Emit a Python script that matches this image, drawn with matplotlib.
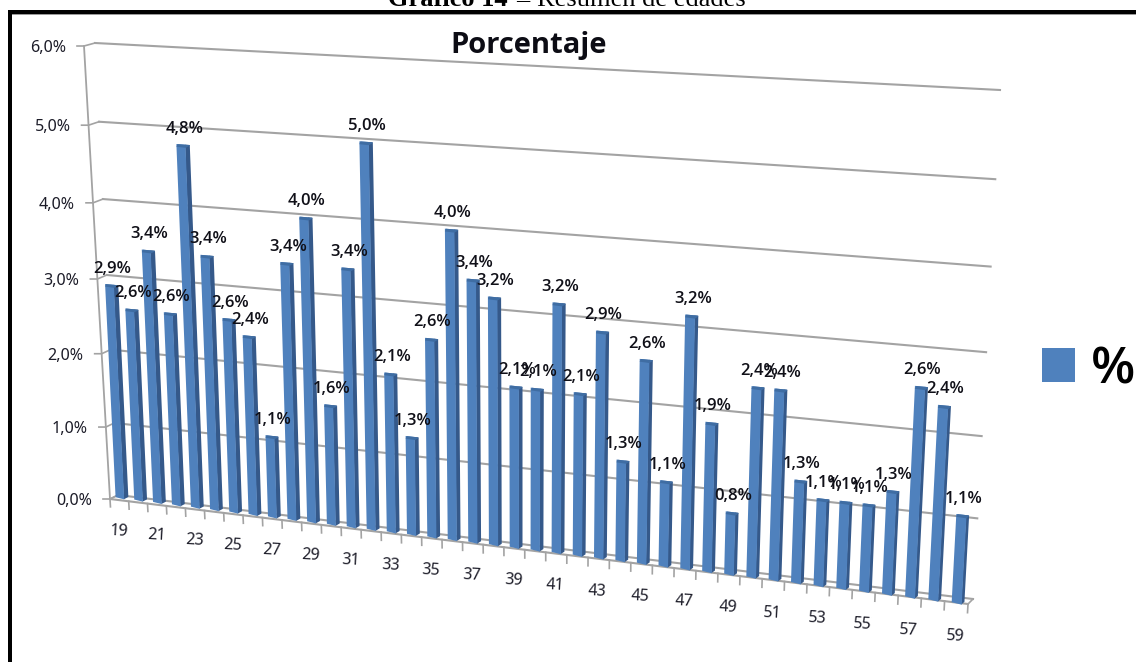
import numpy as np
import matplotlib
matplotlib.use("Agg")
import matplotlib.pyplot as plt
from matplotlib.patches import Polygon, Rectangle, Patch
from matplotlib.transforms import Transform

# Age groups and their share of respondents, in percent
ages = list(range(19, 60))
shares = [2.9, 2.6, 3.4, 2.6, 4.8, 3.4, 2.6, 2.4, 1.1, 3.4, 4.0, 1.6, 3.4, 5.0,
          2.1, 1.3, 2.6, 4.0, 3.4, 3.2, 2.1, 2.1, 3.2, 2.1, 2.9, 1.3, 2.6, 1.1,
          3.2, 1.9, 0.8, 2.4, 2.4, 1.3, 1.1, 1.1, 1.1, 1.3, 2.6, 2.4, 1.1]
value_ticks = [0, 1, 2, 3, 4, 5, 6]
age_labels = ages[::2]
chart_title = "Porcentaje"
series_name = "%"

BLUE = "#4F81BD"
BLUE_SIDE = "#35598A"
BLUE_CAP = "#3F6DA3"
GRID = "#A3A3A3"
W, H = 1136, 662


class PlanePerspective(Transform):
    """Projective map from a (category, value) plane to canvas pixels."""
    input_dims = output_dims = 2
    is_separable = False
    has_inverse = False

    def __init__(self, source, target):
        super().__init__()
        rows, rhs = [], []
        for (a, b), (x, y) in zip(source, target):
            rows.append([a, b, 1, 0, 0, 0, -a * x, -b * x])
            rows.append([0, 0, 0, a, b, 1, -a * y, -b * y])
            rhs += [x, y]
        self.m = np.append(np.linalg.solve(np.array(rows, float), np.array(rhs, float)), 1).reshape(3, 3)

    def transform_non_affine(self, values):
        pts = np.column_stack([values, np.ones(len(values))]) @ self.m.T
        return pts[:, :2] / pts[:, 2:]


def pct(v):
    return f"{v:.1f}%".replace(".", ",")


fig = plt.figure(figsize=(W / 100, H / 100), dpi=100)
ax = fig.add_axes([0, 0, 1, 1])
ax.set_xlim(0, W)
ax.set_ylim(H, 0)
ax.axis("off")

n = len(ages)
lo, hi = -0.5, n - 0.5
ext = [(lo, 6), (hi, 6), (lo, 0), (hi, 0)]

# Three depth planes of the box: back wall, bar row and front edge
wall = PlanePerspective(ext, [(95, 43), (1000, 90), (118, 495), (973, 599)]) + ax.transData
front = PlanePerspective(ext, [(84, 46), (996, 99), (110, 499), (968, 604)]) + ax.transData
row = PlanePerspective([(0, 6), (n - 1, 6), (0, 0), (n - 1, 0)],
                       [(100, 44), (985, 97), (122, 498), (958, 603)]) + ax.transData

# Wall gridlines with their side links and outer ticks
for v in value_ticks:
    ax.plot([lo, hi], [v, v], transform=wall, color=GRID, lw=1.5, zorder=1)
    p0 = front.transform((lo, v))
    p1 = wall.transform((lo, v))
    inv = ax.transData.inverted()
    q0, q1 = inv.transform(p0), inv.transform(p1)
    ax.plot([q0[0] - 7, q0[0], q1[0]], [q0[1], q0[1], q1[1]], color=GRID, lw=1.2, zorder=1)
    ax.annotate(pct(v), xy=(lo, v), xycoords=front, xytext=(-18, -2), textcoords="offset pixels",
                ha="right", va="center", fontsize=11.6, family="Noto Sans", color="#1c1c28", zorder=6)

# Value axis and floor edges
ax.plot([lo, lo], [0, 6], transform=front, color=GRID, lw=1.3, zorder=1)
ax.plot([lo, hi], [0, 0], transform=front, color=GRID, lw=1.5, zorder=1)
for end in (lo, hi):
    a = ax.transData.inverted().transform(front.transform((end, 0)))
    b = ax.transData.inverted().transform(wall.transform((end, 0)))
    ax.plot([a[0], b[0]], [a[1], b[1]], color=GRID, lw=1.2, zorder=1)
for edge in np.arange(lo, hi + 0.5):
    ax.plot([edge, edge], [0, -0.11], transform=front, color=GRID, lw=1.2, zorder=1)

# Bars: lit front face, shaded side and a cap on top
for i, v in enumerate(shares):
    t = i / (n - 1)
    fw = 0.46 - 0.03 * t
    sw = 0.23 - 0.12 * t
    left = i - (fw + sw) / 2
    mid = left + fw
    right = mid + sw
    ax.add_patch(Polygon([(mid - 0.02, -0.015), (right, 0.025), (right, v), (mid - 0.02, v)],
                         transform=row, fc=BLUE_SIDE, lw=0, zorder=3))
    ax.add_patch(Polygon([(left, 0.0), (mid, -0.015), (mid, v), (left, v)],
                         transform=row, fc=BLUE, lw=0, zorder=3))
    ax.add_patch(Polygon([(left, v - 0.035), (mid, v - 0.04), (right, v - 0.01), (right - 0.03, v), (left + 0.05, v)],
                         transform=row, fc=BLUE_CAP, lw=0, zorder=4))
    ax.annotate(pct(v), xy=(i, v), xycoords=row, xytext=(1, 16), textcoords="offset pixels",
                ha="center", va="center", fontsize=12, family="Open Sans", weight="semibold",
                color="#101018", zorder=7)

# Every second age below the floor
for age in age_labels:
    ax.annotate(str(age), xy=(ages.index(age), 0), xycoords=row, xytext=(-3, -33),
                textcoords="offset pixels", ha="center", va="center", rotation=-3,
                rotation_mode="anchor", fontsize=11.6, family="Noto Sans", color="#1c1c28", zorder=6)

ax.text(529, 46, chart_title, ha="center", va="center", fontsize=21, family="Open Sans",
        weight="bold", color="#0c0c14")

ax.legend(handles=[Patch(fc=BLUE, lw=0)], labels=[series_name], loc="center left",
          bbox_to_anchor=(1032, 370), bbox_transform=ax.transData, frameon=False,
          prop={"family": "Open Sans", "size": 37, "weight": "semibold"}, handlelength=0.63,
          handleheight=0.63, handletextpad=0.32, borderpad=0.2, borderaxespad=0)

# Document caption above the framed chart, cut by the page edge
cap = dict(family="Liberation Serif", fontsize=19, va="baseline", color="black")
ax.text(388, 6, "Gráfico 14", ha="left", weight="bold", **cap)
ax.text(516, 6, "–", ha="left", **cap)
ax.text(537, 6, "Resumen de edades", ha="left", **cap)

# Heavy frame around the chart, open to the right and below
ax.add_patch(Rectangle((8, 10), W - 8, 4, fc="black", lw=0, zorder=8))
ax.add_patch(Rectangle((8, 14), W - 8, 1, fc="#9a9a9a", lw=0, zorder=8))
ax.add_patch(Rectangle((8, 10), 4, H - 10, fc="black", lw=0, zorder=8))

fig.savefig("out.png", dpi=100)
